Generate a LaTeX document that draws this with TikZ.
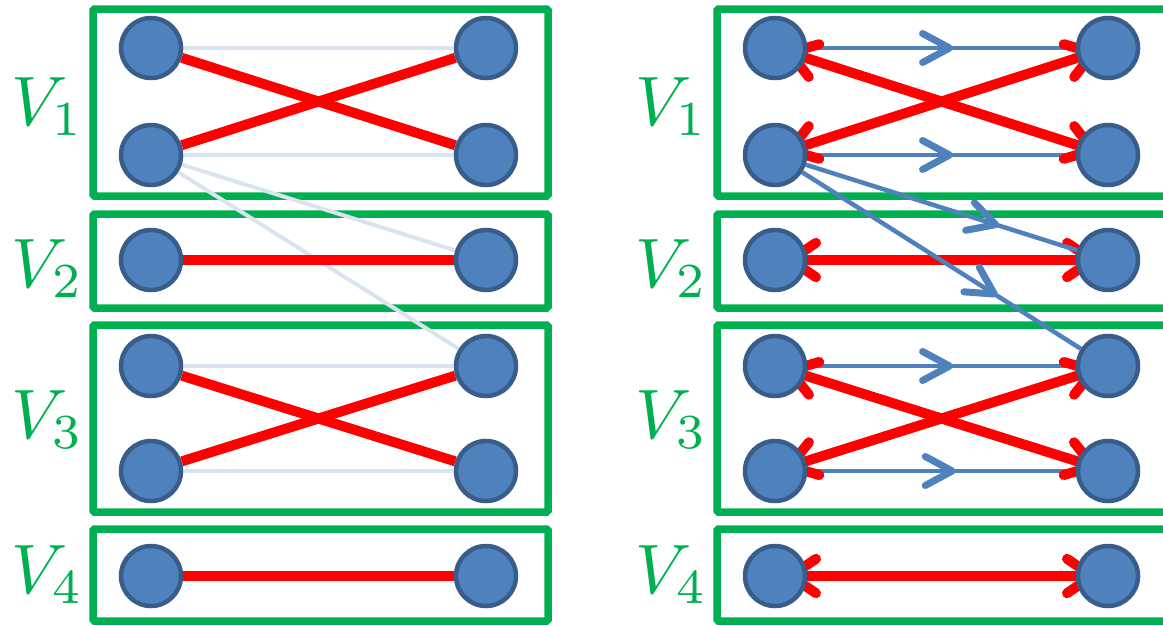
\documentclass[tikz,border=0pt]{standalone}
\usetikzlibrary{decorations.markings}
\definecolor{boxgreen}{RGB}{0,176,80}
\definecolor{nodeblue}{RGB}{79,129,189}
\definecolor{nodeedge}{RGB}{56,93,138}
\definecolor{lightedge}{RGB}{218,228,241}
\definecolor{redline}{RGB}{255,0,0}
\pgfdeclarelayer{boxes}
\pgfdeclarelayer{edges}
\pgfsetlayers{boxes,edges,main}
\tikzset{
  vtx/.style={circle, minimum size=60pt, inner sep=0pt, fill=nodeblue, draw=nodeedge, line width=4.5pt},
  grp/.style={draw=boxgreen, line width=7.5pt, rounded corners=1.5pt},
  lbl/.style={text=boxgreen, anchor=base west, inner sep=0pt, scale=7.0},
  redplain/.style={draw=redline, line width=10pt},
  redarm/.style={draw=redline, line width=10pt, line cap=round, line join=round},
  redboth/.style={draw=redline, line width=10pt, postaction={decorate},
    decoration={markings,
      mark=at position 15.5pt with {\draw[redarm] (25.5pt,17.2pt) -- (0pt,0pt) -- (25.5pt,-17.2pt);},
      mark=at position -15.5pt with {\draw[redarm] (-25.5pt,17.2pt) -- (0pt,0pt) -- (-25.5pt,-17.2pt);}}},
  faint/.style={draw=lightedge, line width=4pt},
  bluemid/.style={draw=nodeblue, line width=4.5pt, postaction={decorate},
    decoration={markings, mark=at position #1 with {\draw[draw=nodeblue, line width=7pt, line cap=round, line join=round] (-27pt,14.5pt) -- (0pt,0pt) -- (-27pt,-14.5pt);}}}
}
\begin{document}
\begin{tikzpicture}[x=1pt,y=1pt]
\useasboundingbox (0,0) rectangle (1163,-625);
\clip (0,0) rectangle (1163,-625);
% groups
\begin{pgfonlayer}{boxes}
\foreach \xo/\xe in {93/548, 717/1180} {
  \draw[grp] (\xo,-9) rectangle (\xe,-196);
  \draw[grp] (\xo,-214) rectangle (\xe,-308);
  \draw[grp] (\xo,-325) rectangle (\xe,-512);
  \draw[grp] (\xo,-529) rectangle (\xe,-621);
}
\end{pgfonlayer}
% labels
\node[lbl] (l1) at (10,-125) {$V_1$};
\node[lbl] (l2) at (10,-287) {$V_2$};
\node[lbl] (l3) at (10,-438) {$V_3$};
\node[lbl] (l4) at (10,-593) {$V_4$};
\node[lbl] (r1) at (634,-125) {$V_1$};
\node[lbl] (r2) at (634,-287) {$V_2$};
\node[lbl] (r3) at (634,-438) {$V_3$};
\node[lbl] (r4) at (634,-593) {$V_4$};
% vertices
\foreach \i/\y in {1/48,2/155,3/260,4/366,5/471,6/576} {
  \node[vtx] (a\i) at (151,-\y) {};
  \node[vtx] (b\i) at (486,-\y) {};
  \node[vtx] (c\i) at (775,-\y) {};
  \node[vtx] (d\i) at (1108,-\y) {};
}
\begin{pgfonlayer}{edges}
% left panel
\draw[faint] (a1) -- (b1);
\draw[faint] (a2) -- (b2);
\draw[faint] (a2) -- (b3);
\draw[faint] (a2) -- (b4);
\draw[faint] (a4) -- (b4);
\draw[faint] (a5) -- (b5);
\draw[redplain] (a1) -- (b2);
\draw[redplain] (a2) -- (b1);
\draw[redplain] (a3) -- (b3);
\draw[redplain] (a4) -- (b5);
\draw[redplain] (a5) -- (b4);
\draw[redplain] (a6) -- (b6);
% right panel
\draw[bluemid=0.53] (c1) -- (d1);
\draw[bluemid=0.53] (c2) -- (d2);
\draw[bluemid=0.53] (c4) -- (d4);
\draw[bluemid=0.54] (c5) -- (d5);
\draw[redboth] (c1.center) -- (d2.center);
\draw[redboth] (c2.center) -- (d1.center);
\draw[redboth] (c3.center) -- (d3.center);
\draw[redboth] (c4.center) -- (d5.center);
\draw[redboth] (c5.center) -- (d4.center);
\draw[redboth] (c6.center) -- (d6.center);
\draw[bluemid=0.70] (c2) -- (d3);
\draw[bluemid=0.69] (c2) -- (d4);
\end{pgfonlayer}
\end{tikzpicture}
\end{document}
